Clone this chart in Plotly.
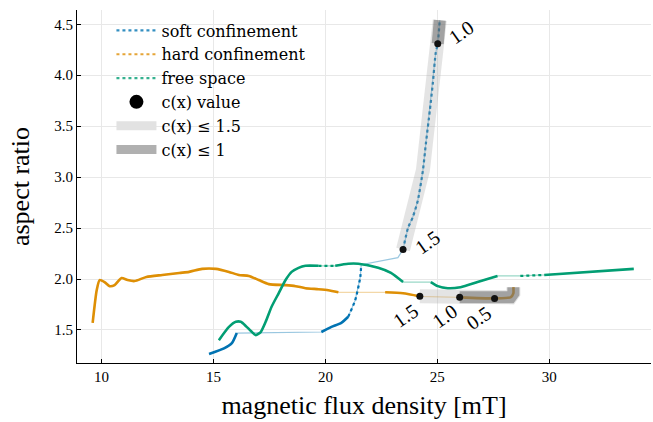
import plotly.graph_objects as go

# ---------------- data ----------------
soft_x = [14.80, 15.47, 15.82, 16.04, 19.82, 20.27, 20.71, 21.02, 21.33, 21.56, 21.60, 23.24,
          23.47, 23.69, 23.91, 24.13, 24.36, 24.49, 24.67, 24.80, 24.93, 25.02, 25.11]
soft_y = [1.265, 1.32, 1.37, 1.47, 1.48, 1.53, 1.57, 1.63, 1.79, 2.02, 2.14, 2.21,
          2.29, 2.50, 2.61, 2.77, 3.07, 3.33, 3.66, 3.92, 4.22, 4.31, 4.54]

hard_x = [9.60, 9.78, 9.91, 10.13, 10.36, 10.58, 10.89, 11.16, 11.47, 12.0, 12.71, 13.47,
          13.91, 14.49, 15.11, 15.69, 16.13, 16.58, 17.02, 17.47, 18.22, 18.67, 19.11, 19.69,
          20.13, 20.58, 21.33, 22.67, 23.47, 24.22, 26.0, 27.56, 28.27, 28.40, 28.40]
hard_y = [1.57, 1.89, 1.99, 1.97, 1.93, 1.94, 2.01, 1.99, 1.98, 2.02, 2.04, 2.06,
          2.07, 2.10, 2.10, 2.07, 2.04, 2.03, 1.99, 1.95, 1.94, 1.93, 1.91, 1.90,
          1.89, 1.87, 1.87, 1.87, 1.86, 1.83, 1.82, 1.81, 1.82, 1.86, 1.92]

free_x = [15.24, 15.69, 16.0, 16.22, 16.44, 16.67, 16.89, 17.11, 17.33, 17.6, 17.91, 18.22,
          18.49, 18.8, 19.11, 19.69, 20.44, 21.02, 21.47, 22.36, 22.93, 23.47, 24.71, 25.02,
          25.47, 26.04, 26.8, 27.69, 28.71, 29.78, 33.78]
free_y = [1.40, 1.53, 1.58, 1.58, 1.54, 1.49, 1.45, 1.48, 1.58, 1.73, 1.86, 1.99,
          2.07, 2.11, 2.13, 2.13, 2.13, 2.15, 2.15, 2.11, 2.06, 1.97, 1.97, 1.93,
          1.91, 1.92, 1.97, 2.03, 2.03, 2.04, 2.10]

# segment styles: (start index, end index, style)
soft_segments = [(0, 3, "solid"), (3, 4, "thin"), (4, 7, "solid"), (7, 10, "dot"),
                 (10, 12, "thin"), (12, 22, "dot")]
hard_segments = [(0, 25, "solid"), (25, 27, "thin"), (27, 29, "solid"), (29, 30, "thin"),
                 (30, 34, "solid")]
free_segments = [(0, 15, "solid"), (15, 16, "dot"), (16, 21, "solid"), (21, 22, "thin"),
                 (22, 27, "solid"), (27, 28, "thin"), (28, 29, "dot"), (29, 30, "solid")]

# c(x) values (marker indices and labels)
soft_marks = [12, 21]
soft_mark_labels = ["1.5", "1.0"]
hard_marks = [29, 30, 31]
hard_mark_labels = ["1.5", "1.0", "0.5"]

# band ranges: c(x) <= 1.5 and c(x) <= 1
soft_band15 = (12, 22)
soft_band10 = (21, 22)
hard_band15 = (29, 34)
hard_band10 = (30, 34)

x_ticks = [10, 15, 20, 25, 30]
y_ticks = [1.5, 2.0, 2.5, 3.0, 3.5, 4.0, 4.5]

series_names = ["soft confinement", "hard confinement", "free space"]
colors = ["#0173B2", "#DE8F05", "#029E73"]
thin_colors = ["rgba(1,115,178,0.4)", "rgba(222,143,5,0.35)", "rgba(2,158,115,0.4)"]

FONT = "Liberation Serif"
LEGFONT = "DejaVu Serif"

fig = go.Figure()

series = [(soft_x, soft_y, soft_segments), (hard_x, hard_y, hard_segments),
          (free_x, free_y, free_segments)]

# thin connecting lines underneath
for (xs, ys, segs), tc in zip(series, thin_colors):
    fig.add_trace(go.Scatter(x=xs, y=ys, mode="lines", line=dict(color=tc, width=1.2),
                             showlegend=False, hoverinfo="skip"))

# styled segments
for (xs, ys, segs), c in zip(series, colors):
    for a, b, st in segs:
        if st == "thin":
            continue
        dash = "solid" if st == "solid" else "dot"
        w = 2.6 if st == "solid" else 2.2
        fig.add_trace(go.Scatter(x=xs[a:b + 1], y=ys[a:b + 1], mode="lines",
                                 line=dict(color=c, width=w, dash=dash, shape="spline",
                                           smoothing=0.6),
                                 showlegend=False, hoverinfo="skip"))

# bands
light_band = "rgba(170,170,170,0.32)"
dark_band = "rgba(95,95,95,0.5)"
for xs, ys, rng, col, w in [(soft_x, soft_y, soft_band15, light_band, 14),
                            (hard_x, hard_y, hard_band15, light_band, 14),
                            (soft_x, soft_y, soft_band10, dark_band, 12),
                            (hard_x, hard_y, hard_band10, dark_band, 12)]:
    a, b = rng
    fig.add_trace(go.Scatter(x=xs[a:b + 1], y=ys[a:b + 1], mode="lines",
                             line=dict(color=col, width=w), showlegend=False,
                             hoverinfo="skip"))

# c(x) markers
mx = [soft_x[i] for i in soft_marks] + [hard_x[i] for i in hard_marks]
my = [soft_y[i] for i in soft_marks] + [hard_y[i] for i in hard_marks]
fig.add_trace(go.Scatter(x=mx, y=my, mode="markers",
                         marker=dict(color="#111111", size=7), showlegend=False,
                         hoverinfo="skip"))

# labels for c(x) values
offsets_soft = [(1.11, 0.07), (1.07, 0.11)]
offsets_hard = [(-0.66, -0.19), (-0.67, -0.18), (-0.72, -0.19)]
for i, lab, (dx, dy) in zip(soft_marks, soft_mark_labels, offsets_soft):
    fig.add_annotation(x=soft_x[i] + dx, y=soft_y[i] + dy, text=lab, showarrow=False,
                       textangle=-35, font=dict(family=FONT, size=20, color="black"))
for i, lab, (dx, dy) in zip(hard_marks, hard_mark_labels, offsets_hard):
    fig.add_annotation(x=hard_x[i] + dx, y=hard_y[i] + dy, text=lab, showarrow=False,
                       textangle=-35, font=dict(family=FONT, size=20, color="black"))

# legend entries
leg_colors = ["rgba(1,115,178,0.8)", "rgba(222,143,5,0.8)", "rgba(2,158,115,0.8)"]
for name, c in zip(series_names, leg_colors):
    fig.add_trace(go.Scatter(x=[None], y=[None], mode="lines", name=name,
                             line=dict(color=c, width=2.2, dash="dot")))
fig.add_trace(go.Scatter(x=[None], y=[None], mode="markers", name="c(x) value",
                         marker=dict(color="black", size=14)))
fig.add_trace(go.Scatter(x=[None], y=[None], mode="lines", name="c(x) ≤ 1.5",
                         line=dict(color="#e2e2e2", width=9)))
fig.add_trace(go.Scatter(x=[None], y=[None], mode="lines", name="c(x) ≤ 1",
                         line=dict(color="#b0b0b0", width=9)))

fig.update_layout(
    width=653, height=422,
    margin=dict(l=77, r=2, t=10, b=59),
    paper_bgcolor="white", plot_bgcolor="white",
    font=dict(family=FONT, color="black"),
    showlegend=True,
    legend=dict(x=0.06, y=0.99, xanchor="left", yanchor="top",
                bgcolor="rgba(0,0,0,0)", font=dict(family=LEGFONT, size=16),
                tracegroupgap=0, itemwidth=40),
    xaxis=dict(range=[8.9, 34.55], tickvals=x_ticks, ticktext=[str(t) for t in x_ticks],
               showgrid=True, gridcolor="#e8e8e8", gridwidth=1, zeroline=False,
               showline=True, linecolor="black", linewidth=1,
               ticks="inside", ticklen=4, tickcolor="black",
               tickfont=dict(family=FONT, size=15),
               title=dict(text="magnetic flux density [mT]", standoff=11,
                          font=dict(family=FONT, size=26))),
    yaxis=dict(range=[1.176, 4.64], tickvals=y_ticks, ticktext=[f"{t:.1f}" for t in y_ticks],
               showgrid=True, gridcolor="#e8e8e8", gridwidth=1, zeroline=False,
               showline=True, linecolor="black", linewidth=1,
               ticks="inside", ticklen=4, tickcolor="black",
               tickfont=dict(family=FONT, size=15),
               title=dict(text="aspect ratio", standoff=17,
                          font=dict(family=FONT, size=26))),
)

fig.write_html("out.html")
